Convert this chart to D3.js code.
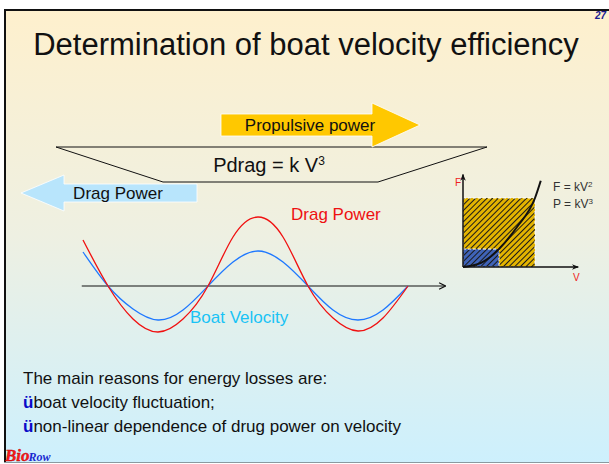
<!DOCTYPE html>
<html>
<head>
<meta charset="utf-8">
<script src="https://cdn.jsdelivr.net/npm/d3@7"></script>
<style>
  html, body { margin: 0; padding: 0; background: #fff; }
  svg { display: block; font-family: "Liberation Sans", Arial, sans-serif; }
</style>
</head>
<body>
<svg id="slide" width="609" height="464"></svg>
<script>
// wave data, time in quarter-half-period steps, values in px-like units above the axis
const waveTime = [0, 1, 2, 3, 4, 5, 6, 7, 8, 9, 10, 11, 12, 13];
const boatVelocity = [34, 0, -23, -34, -24, 0, 24, 35, 24, 0, -24, -34, -24, 0];
const dragPower = [46, 0, -33, -46, -33, 0, 49, 69, 49, 0, -32, -45, -32, 0];

// inset F(V) curve and the two power rectangles
const insetV = [0, 0.25, 0.5, 0.75, 1, 1.08];
const insetF = [0, 0.06, 0.26, 0.58, 1, 1.25];
const powerRects = [
    { v: 1, f: 1, fill: 'url(#hatchGold)' },
    { v: 0.5, f: 0.26, fill: 'url(#hatchBlue)' }
];
const insetFormulas = [['F = kV', '2'], ['P = kV', '3']];

const bulletLines = ['boat velocity fluctuation;', 'non-linear dependence of drug power on velocity'];

const svg = d3.select('#slide');
const defs = svg.append('defs');

// slide background
const grad = defs.append('linearGradient')
    .attr('id', 'bg').attr('x1', 0).attr('y1', 0).attr('x2', 0).attr('y2', 1);
grad.append('stop').attr('offset', '0%').attr('stop-color', '#fef0cd');
grad.append('stop').attr('offset', '50%').attr('stop-color', '#eef0e2');
grad.append('stop').attr('offset', '100%').attr('stop-color', '#cdf0fd');

function hatch(id, bg) {
    const p = defs.append('pattern')
        .attr('id', id)
        .attr('patternUnits', 'userSpaceOnUse')
        .attr('width', 4).attr('height', 4)
        .attr('patternTransform', 'rotate(45)');
    p.append('rect').attr('width', 4).attr('height', 4).attr('fill', bg);
    p.append('line').attr('x1', 0).attr('y1', 0).attr('x2', 0).attr('y2', 4)
        .attr('stroke', '#1a1a1a').attr('stroke-width', 2);
}
hatch('hatchGold', '#e3b400');
hatch('hatchBlue', '#3f63b8');

svg.append('rect')
    .attr('x', 4).attr('y', 9).attr('width', 605).attr('height', 453)
    .attr('fill', 'url(#bg)');
svg.append('path')
    .attr('d', 'M5,463 L5,10 L609,10')
    .attr('fill', 'none').attr('stroke', '#111').attr('stroke-width', 2);
svg.append('line')
    .attr('x1', 4).attr('x2', 609).attr('y1', 462.5).attr('y2', 462.5)
    .attr('stroke', '#8a9aa0').attr('stroke-width', 1);

// page number
svg.append('text')
    .attr('x', 606).attr('y', 19)
    .attr('text-anchor', 'end')
    .style('font-size', '10px').style('font-weight', 'bold').style('font-style', 'italic')
    .style('fill', '#1c1c90')
    .text('27');

// title
svg.append('text')
    .attr('x', 306).attr('y', 55)
    .attr('text-anchor', 'middle')
    .style('font-size', '31px')
    .style('fill', '#111')
    .text('Determination of boat velocity efficiency');

// Pdrag trapezoid
svg.append('polygon')
    .attr('points', '56,147 487,147 378,182 163,182')
    .attr('fill', 'none').attr('stroke', '#111').attr('stroke-width', 1);

svg.append('text')
    .attr('x', 269).attr('y', 172)
    .attr('text-anchor', 'middle')
    .style('font-size', '20px').style('fill', '#111')
    .call(t => {
        t.append('tspan').text('Pdrag = k V');
        t.append('tspan').attr('dy', -7).style('font-size', '12px').text('3');
    });

// propulsive power arrow
svg.append('polygon')
    .attr('points', '221,114 372,114 372,103 420,125 372,147 372,136 221,136')
    .attr('fill', '#ffc800').attr('stroke', '#fff').attr('stroke-width', 0.8);
svg.append('text')
    .attr('x', 310).attr('y', 131)
    .attr('text-anchor', 'middle')
    .style('font-size', '17px').style('fill', '#111')
    .text('Propulsive power');

// drag power arrow
svg.append('polygon')
    .attr('points', '197,184 64,184 64,175 21,193 64,211 64,202 197,202')
    .attr('fill', '#b8e5fc').attr('stroke', '#fff').attr('stroke-width', 0.8);
svg.append('text')
    .attr('x', 118).attr('y', 199)
    .attr('text-anchor', 'middle')
    .style('font-size', '17px').style('fill', '#111')
    .text('Drag Power');

// wave chart
const x = d3.scaleLinear().domain([0, 13]).range([83, 408]);
const y = d3.scaleLinear().domain([-80, 80]).range([366, 206]);

defs.append('marker')
    .attr('id', 'axisArrow')
    .attr('viewBox', '0 0 10 10')
    .attr('refX', 9).attr('refY', 5)
    .attr('markerWidth', 8).attr('markerHeight', 8)
    .attr('markerUnits', 'userSpaceOnUse')
    .attr('orient', 'auto')
    .append('path')
    .attr('d', 'M1,1 L9,5 L1,9')
    .attr('fill', 'none').attr('stroke', '#111').attr('stroke-width', 1.5);

svg.append('line')
    .attr('x1', x(-0.05)).attr('x2', x(14.5))
    .attr('y1', y(0)).attr('y2', y(0))
    .attr('stroke', '#111').attr('stroke-width', 1.2)
    .attr('marker-end', 'url(#axisArrow)');

const line = d3.line()
    .x((d, i) => x(waveTime[i]))
    .y(d => y(d))
    .curve(d3.curveNatural);

svg.append('path')
    .datum(boatVelocity)
    .attr('d', line)
    .attr('fill', 'none').attr('stroke', '#1e78ff').attr('stroke-width', 1.3);

svg.append('path')
    .datum(dragPower)
    .attr('d', line)
    .attr('fill', 'none').attr('stroke', '#f01010').attr('stroke-width', 1.3);

svg.append('text')
    .attr('x', 291).attr('y', 220)
    .style('font-size', '17px').style('fill', '#ee1111')
    .text('Drag Power');
svg.append('text')
    .attr('x', 190).attr('y', 323)
    .style('font-size', '17px').style('fill', '#19c3f5')
    .text('Boat Velocity');

// inset F-V chart
const vx = d3.scaleLinear().domain([0, 1]).range([463, 535]);
const fy = d3.scaleLinear().domain([0, 1]).range([267, 198]);

svg.selectAll('.power-rect')
    .data(powerRects)
    .enter()
    .append('rect')
    .attr('class', 'power-rect')
    .attr('x', vx(0))
    .attr('y', d => fy(d.f))
    .attr('width', d => vx(d.v) - vx(0))
    .attr('height', d => fy(0) - fy(d.f))
    .attr('fill', d => d.fill)
    .attr('stroke', '#fff').attr('stroke-width', 1)
    .attr('stroke-dasharray', '3,2');

svg.append('path')
    .datum(insetV.map((v, i) => [v, insetF[i]]))
    .attr('d', d3.line().x(d => vx(d[0])).y(d => fy(d[1])).curve(d3.curveMonotoneX))
    .attr('fill', 'none').attr('stroke', '#111').attr('stroke-width', 2);

defs.append('marker')
    .attr('id', 'insetArrow')
    .attr('viewBox', '0 0 10 10')
    .attr('refX', 9).attr('refY', 5)
    .attr('markerWidth', 7).attr('markerHeight', 7)
    .attr('markerUnits', 'userSpaceOnUse')
    .attr('orient', 'auto')
    .append('path')
    .attr('d', 'M0,1 L10,5 L0,9 L3,5 Z')
    .attr('fill', '#111');

svg.append('line')
    .attr('x1', vx(0)).attr('x2', vx(0))
    .attr('y1', fy(0)).attr('y2', fy(1.34))
    .attr('stroke', '#111').attr('stroke-width', 1.5)
    .attr('marker-end', 'url(#insetArrow)');
svg.append('line')
    .attr('x1', vx(0)).attr('x2', vx(1.6))
    .attr('y1', fy(0)).attr('y2', fy(0))
    .attr('stroke', '#111').attr('stroke-width', 1.5)
    .attr('marker-end', 'url(#insetArrow)');

svg.append('text')
    .attr('x', 455).attr('y', 186)
    .style('font-size', '10px').style('fill', '#ee2222')
    .text('F');
svg.append('text')
    .attr('x', 573).attr('y', 281)
    .style('font-size', '10px').style('fill', '#ee2222')
    .text('V');

svg.selectAll('.formula')
    .data(insetFormulas)
    .enter()
    .append('text')
    .attr('class', 'formula')
    .attr('x', 553)
    .attr('y', (d, i) => 191 + i * 17)
    .style('font-size', '12px').style('fill', '#333')
    .each(function(d) {
        const t = d3.select(this);
        t.append('tspan').text(d[0]);
        t.append('tspan').attr('dy', -4).style('font-size', '8px').text(d[1]);
    });

// bottom text
svg.append('text')
    .attr('x', 23).attr('y', 384)
    .style('font-size', '17px').style('fill', '#111')
    .text('The main reasons for energy losses are:');

svg.selectAll('.bullet')
    .data(bulletLines)
    .enter()
    .append('text')
    .attr('class', 'bullet')
    .attr('x', 23)
    .attr('y', (d, i) => 408 + i * 24)
    .style('font-size', '17px').style('fill', '#111')
    .each(function(d) {
        const t = d3.select(this);
        t.append('tspan').style('fill', '#0a0ac8').style('font-weight', 'bold').text('ü');
        t.append('tspan').text(d);
    });

// logo
const logo = svg.append('text')
    .attr('x', 5).attr('y', 461)
    .style('font-family', '"Liberation Serif", serif')
    .style('font-style', 'italic').style('font-weight', 'bold');
logo.append('tspan').style('font-size', '17px').style('fill', '#ff1a1a')
    .style('stroke', '#b00').style('stroke-width', 0.4).text('Bio');
logo.append('tspan').attr('dx', -1).style('font-size', '12px').style('fill', '#1a2ad0').text('Row');
</script>
</body>
</html>
